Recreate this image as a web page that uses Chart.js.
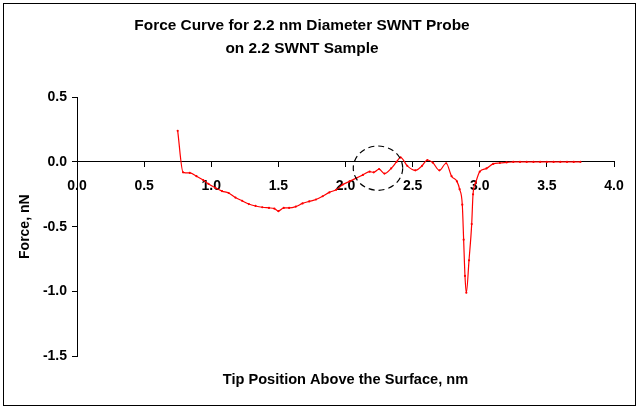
<!DOCTYPE html>
<html>
<head>
<meta charset="utf-8">
<script src="https://cdn.jsdelivr.net/npm/chart.js@4/dist/chart.umd.min.js"></script>
<style>
  html, body { margin: 0; padding: 0; background: #fff; overflow: hidden; }
  #wrap { position: relative; width: 640px; height: 410px; }
  #frame { position: absolute; left: 3px; top: 3px; width: 633px; height: 403px; box-sizing: border-box; border: 1px solid #000; pointer-events: none; }
  canvas { position: absolute; left: 0; top: 0; }
</style>
</head>
<body>
<div id="wrap">
  <canvas id="c" width="640" height="410"></canvas>
  <div id="frame"></div>
</div>
<script>
// ---- data ----
const titleLines = ['Force Curve for 2.2 nm Diameter SWNT Probe', 'on 2.2 SWNT Sample'];
const xTitle = 'Tip Position Above the Surface, nm';
const yTitle = 'Force, nN';
const tipPosition = [
  0.75, 0.79, 0.84, 0.89, 0.94, 0.98, 1.03, 1.08, 1.13, 1.18, 1.23, 1.28, 1.33, 1.38, 1.43, 1.47,
  1.50, 1.54, 1.58, 1.63, 1.68, 1.73, 1.78, 1.83, 1.88, 1.93, 1.98, 2.03, 2.08, 2.13, 2.18, 2.21,
  2.25, 2.29, 2.34, 2.38, 2.41, 2.46, 2.52, 2.57, 2.61, 2.65, 2.70, 2.75, 2.79, 2.83, 2.85, 2.87,
  2.88, 2.89, 2.90, 2.92, 2.94, 2.95, 2.97, 3.00, 3.05, 3.10, 3.15,
  3.20, 3.25, 3.30, 3.35, 3.40, 3.45, 3.50, 3.55, 3.60, 3.65, 3.70, 3.75
];
const force = [
  0.24, -0.08, -0.085, -0.11, -0.14, -0.17, -0.20, -0.225, -0.24, -0.275, -0.30, -0.325, -0.34, -0.35, -0.355, -0.36,
  -0.38, -0.355, -0.355, -0.345, -0.32, -0.305, -0.29, -0.265, -0.235, -0.215, -0.175, -0.15, -0.125, -0.10, -0.075, -0.08,
  -0.055, -0.09, -0.05, 0.0, 0.035, -0.03, -0.065, -0.03, 0.015, -0.005, -0.065, -0.01, -0.11, -0.15, -0.21, -0.33,
  -0.6, -0.88, -1.01, -0.76, -0.48, -0.25, -0.16, -0.075, -0.05, -0.015, -0.008,
  -0.004, 0, 0, 0, 0, 0, 0, 0, 0, 0, 0, 0
];
const xTicks = [0.0, 0.5, 1.0, 1.5, 2.0, 2.5, 3.0, 3.5, 4.0];
const yTicks = [-1.5, -1.0, -0.5, 0.0, 0.5];
// dashed ellipse highlighting the region near 2.2 nm (data units)
const circleCenter = [2.242, -0.048];
const circleRadii = [0.184, 0.171];

const FONT = '"Liberation Sans", Arial, sans-serif';

const ellipsePlugin = {
  id: 'ellipse',
  afterDatasetsDraw(chart) {
    const xs = chart.scales.x, ys = chart.scales.y, ctx = chart.ctx;
    const cx = xs.getPixelForValue(circleCenter[0]);
    const cy = ys.getPixelForValue(circleCenter[1]);
    const rx = Math.abs(xs.getPixelForValue(circleCenter[0] + circleRadii[0]) - cx);
    const ry = Math.abs(ys.getPixelForValue(circleCenter[1] + circleRadii[1]) - cy);
    ctx.save();
    ctx.beginPath();
    ctx.setLineDash([6, 4]);
    ctx.lineWidth = 1.2;
    ctx.strokeStyle = '#000';
    ctx.ellipse(cx, cy, rx, ry, 0, 0, Math.PI * 2);
    ctx.stroke();
    ctx.restore();
  }
};

new Chart(document.getElementById('c'), {
  type: 'line',
  data: {
    datasets: [{
      data: tipPosition.map((p, i) => ({ x: p, y: force[i] })),
      borderColor: '#ff0000',
      backgroundColor: '#ff0000',
      borderWidth: 1.2,
      pointRadius: 1.1,
      pointHoverRadius: 1.1,
      pointBorderWidth: 0,
      cubicInterpolationMode: 'monotone',
      fill: false
    }]
  },
  options: {
    responsive: false,
    animation: false,
    events: [],
    layout: { padding: { left: -10, right: 26, top: 0, bottom: 11 } },
    plugins: {
      legend: { display: false },
      tooltip: { enabled: false },
      title: {
        display: true,
        text: titleLines,
        color: '#000',
        font: { family: FONT, size: 15.4, weight: 'bold', lineHeight: 1.5 },
        padding: { top: 14.5, bottom: 36.5 }
      }
    },
    scales: {
      x: {
        type: 'linear',
        position: { y: 0 },
        min: 0, max: 4,
        afterBuildTicks: (s) => { s.ticks = xTicks.map(v => ({ value: v })); },
        ticks: {
          color: '#000',
          font: { family: FONT, size: 14, weight: 'bold' },
          padding: 11,
          maxRotation: 0,
          autoSkip: false,
          callback: (v) => Number(v).toFixed(1)
        },
        grid: { drawOnChartArea: false, drawTicks: true, tickLength: 5, color: '#000', lineWidth: 1 },
        border: { display: true, color: '#000', width: 1 }
      },
      x2: {
        type: 'linear',
        position: 'bottom',
        min: 0, max: 1,
        ticks: { display: false },
        grid: { display: false, drawTicks: false },
        border: { display: false },
        title: {
          display: true,
          text: xTitle,
          color: '#000',
          font: { family: FONT, size: 14.6, weight: 'bold', lineHeight: 1.2 },
          padding: { top: 15.3, bottom: 10 }
        }
      },
      y: {
        type: 'linear',
        position: 'left',
        min: -1.5, max: 0.5,
        afterBuildTicks: (s) => { s.ticks = yTicks.map(v => ({ value: v })); },
        afterFit: (s) => { s.width = 87; },
        ticks: {
          color: '#000',
          font: { family: FONT, size: 14, weight: 'bold' },
          padding: 5,
          autoSkip: false,
          callback: (v) => Number(v).toFixed(1)
        },
        grid: { drawOnChartArea: false, drawTicks: true, tickLength: 5, color: '#000', lineWidth: 1 },
        border: { display: true, color: '#000', width: 1 },
        title: {
          display: true,
          text: yTitle,
          color: '#000',
          font: { family: FONT, size: 14, weight: 'bold', lineHeight: 1.2 },
          padding: { top: 26.6, bottom: 0 }
        }
      }
    }
  },
  plugins: [ellipsePlugin]
});
</script>
</body>
</html>
